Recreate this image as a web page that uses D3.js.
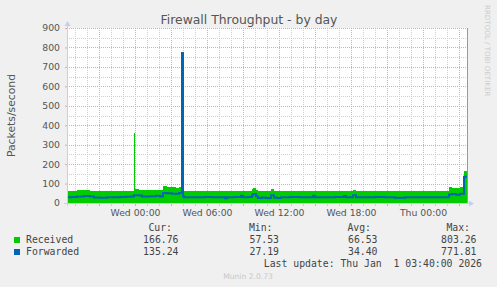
<!DOCTYPE html>
<html>
<head>
<meta charset="utf-8">
<style>
    body { margin: 0; background: #f0f0f0; }
    svg { display: block; }
    text { font-family: "DejaVu Sans", sans-serif; fill: #555; }
    .axis text { font-size: 9.3px; fill: #555; }
    .legend text { font-family: "DejaVu Sans Mono", monospace; font-size: 9.8px; fill: #444; }
    .grid line { stroke-width: 1; stroke-dasharray: 1,1; shape-rendering: crispEdges; }
    .grid .minor { stroke: #cfcfcf; }
    .grid .major { stroke: #e6a6a6; }
</style>
</head>
<body>
<script src="https://cdn.jsdelivr.net/npm/d3@7"></script>
<script>

    // samples (step values, each holds until the next time)
    var times = [
        "2025-12-30 18:20", "2025-12-30 18:45", "2025-12-30 19:10", "2025-12-30 19:45", "2025-12-30 20:15",
        "2025-12-30 20:35", "2025-12-30 21:05", "2025-12-30 21:40", "2025-12-30 22:15", "2025-12-30 22:45",
        "2025-12-30 23:15", "2025-12-30 23:40", "2025-12-30 23:55", "2025-12-31 00:00", "2025-12-31 00:20",
        "2025-12-31 00:35", "2025-12-31 01:15", "2025-12-31 01:45", "2025-12-31 02:05", "2025-12-31 02:20",
        "2025-12-31 02:40", "2025-12-31 03:05", "2025-12-31 03:25", "2025-12-31 03:40", "2025-12-31 03:55",
        "2025-12-31 04:00", "2025-12-31 04:05", "2025-12-31 04:35", "2025-12-31 05:15", "2025-12-31 05:50",
        "2025-12-31 06:25", "2025-12-31 06:55", "2025-12-31 07:30", "2025-12-31 07:40", "2025-12-31 08:15",
        "2025-12-31 08:50", "2025-12-31 09:00", "2025-12-31 09:25", "2025-12-31 09:45", "2025-12-31 09:50",
        "2025-12-31 10:05", "2025-12-31 10:15", "2025-12-31 10:35", "2025-12-31 10:55", "2025-12-31 11:20",
        "2025-12-31 11:35", "2025-12-31 11:50", "2025-12-31 12:10", "2025-12-31 12:55", "2025-12-31 13:45",
        "2025-12-31 14:50", "2025-12-31 15:00", "2025-12-31 15:50", "2025-12-31 16:40", "2025-12-31 17:25",
        "2025-12-31 17:35", "2025-12-31 18:10", "2025-12-31 18:25", "2025-12-31 19:10", "2025-12-31 20:00",
        "2025-12-31 20:50", "2025-12-31 21:40", "2025-12-31 22:30", "2025-12-31 23:20", "2026-01-01 00:10",
        "2026-01-01 01:00", "2026-01-01 01:50", "2026-01-01 02:10", "2026-01-01 02:25", "2026-01-01 02:45",
        "2026-01-01 03:05", "2026-01-01 03:25"
    ];
    var received = [
        62, 63, 66, 68, 64, 61, 60, 62, 61, 62,
        63, 64, 360, 70, 68, 66, 67, 68, 65, 88,
        84, 80, 78, 82, 760, 66, 62, 62, 63, 62,
        63, 62, 62, 63, 62, 63, 62, 63, 72, 75,
        66, 62, 63, 62, 70, 63, 62, 63, 62, 63,
        62, 63, 62, 63, 62, 63, 68, 62, 63, 62,
        63, 62, 63, 62, 63, 62, 63, 80, 78, 79,
        80, 166
    ];
    var forwarded = [
        30, 31, 34, 36, 33, 28, 27, 29, 30, 31,
        32, 34, 40, 40, 38, 34, 35, 37, 33, 52,
        50, 47, 48, 52, 771, 35, 30, 29, 30, 31,
        30, 29, 24, 30, 31, 37, 30, 31, 40, 46,
        35, 26, 28, 26, 40, 28, 26, 30, 31, 30,
        37, 30, 29, 31, 36, 30, 40, 30, 29, 31,
        30, 27, 30, 29, 30, 29, 30, 44, 46, 42,
        47, 135
    ];

    var startTime = "2025-12-30 18:20";
    var endTime = "2026-01-01 03:40";
    var yTicks = [0, 100, 200, 300, 400, 500, 600, 700, 800, 900];

    var seriesNames = ["Received", "Forwarded"];
    var seriesColors = ["#00cc00", "#0066b3"];
    var legendCur = ["166.76", "135.24"];
    var legendMin = ["57.53", "27.19"];
    var legendAvg = ["66.53", "34.40"];
    var legendMax = ["803.26", "771.81"];

    var svgW = 497, svgH = 287;
    var plotLeft = 67, plotTop = 28, plotW = 400, plotH = 175;
    var plotBottom = plotTop + plotH, plotRight = plotLeft + plotW;

    var parse = d3.timeParse("%Y-%m-%d %H:%M");

    var rows = times.map(function (t, i) {
        return { t: parse(t), r: received[i], f: forwarded[i] };
    });
    // hold the last value up to the end of the graph
    rows.push({ t: parse(endTime), r: received[received.length - 1], f: forwarded[forwarded.length - 1] });

    var x = d3.scaleTime()
        .domain([parse(startTime), parse(endTime)])
        .range([plotLeft, plotRight]);

    var y = d3.scaleLinear()
        .domain([0, 900])
        .range([plotBottom, plotTop]);

    var svg = d3.select("body").append("svg")
        .attr("width", svgW)
        .attr("height", svgH);

    svg.append("rect")
        .attr("x", plotLeft).attr("y", plotTop)
        .attr("width", plotW).attr("height", plotH)
        .attr("fill", "#fff");

    // grid
    var grid = svg.append("g").attr("class", "grid");
    var hours = d3.timeHour.range(x.domain()[0], x.domain()[1]);
    grid.selectAll("line.v")
        .data(hours)
        .enter().append("line")
        .attr("class", function (d) { return d.getHours() % 3 === 0 ? "v major" : "v minor"; })
        .attr("x1", function (d) { return Math.round(x(d)) + 0.5; })
        .attr("x2", function (d) { return Math.round(x(d)) + 0.5; })
        .attr("y1", plotTop)
        .attr("y2", plotBottom);

    grid.selectAll("line.h")
        .data(d3.range(50, 901, 50))
        .enter().append("line")
        .attr("class", function (d) { return d % 100 === 0 ? "h major" : "h minor"; })
        .attr("x1", plotLeft)
        .attr("x2", plotRight)
        .attr("y1", function (d) { return Math.round(y(d)) + 0.5; })
        .attr("y2", function (d) { return Math.round(y(d)) + 0.5; });

    // data
    var area = d3.area()
        .curve(d3.curveStepAfter)
        .x(function (d) { return x(d.t); })
        .y0(y(0))
        .y1(function (d) { return y(d.r); });

    var fwdLine = d3.line()
        .curve(d3.curveStepAfter)
        .x(function (d) { return x(d.t); })
        .y(function (d) { return y(d.f); });

    svg.append("path")
        .datum(rows)
        .attr("d", area)
        .attr("fill", seriesColors[0])
        .attr("shape-rendering", "crispEdges");

    svg.append("path")
        .datum(rows)
        .attr("d", fwdLine)
        .attr("fill", "none")
        .attr("stroke", seriesColors[1])
        .attr("stroke-width", 2);

    // frame and axes
    svg.append("line")
        .attr("x1", plotRight + 0.5).attr("x2", plotRight + 0.5)
        .attr("y1", plotTop).attr("y2", plotBottom)
        .attr("stroke", "#999");

    var xAxis = svg.append("g")
        .attr("class", "axis")
        .attr("transform", "translate(0," + plotBottom + ")")
        .call(d3.axisBottom(x)
            .ticks(d3.timeHour.every(6))
            .tickFormat(d3.timeFormat("%a %H:%M"))
            .tickSize(0)
            .tickPadding(6));
    xAxis.select(".domain").remove();

    var yAxis = svg.append("g")
        .attr("class", "axis")
        .attr("transform", "translate(" + plotLeft + ",0)")
        .call(d3.axisLeft(y)
            .tickValues(yTicks)
            .tickSize(2)
            .tickPadding(5));
    yAxis.select(".domain").remove();
    yAxis.selectAll(".tick line").attr("stroke", "#e6a6a6");

    // small hour marks under the time axis
    svg.append("g").selectAll("line")
        .data(hours)
        .enter().append("line")
        .attr("x1", function (d) { return Math.round(x(d)) + 0.5; })
        .attr("x2", function (d) { return Math.round(x(d)) + 0.5; })
        .attr("y1", plotBottom + 1)
        .attr("y2", plotBottom + 3)
        .attr("stroke", function (d) { return d.getHours() % 3 === 0 ? "#e6a6a6" : "#cfcfcf"; });

    var axisColor = "#c8ccf4";
    svg.append("line")
        .attr("x1", plotLeft + 0.5).attr("x2", plotLeft + 0.5)
        .attr("y1", plotTop - 3).attr("y2", plotBottom + 3)
        .attr("stroke", axisColor);
    svg.append("line")
        .attr("x1", plotLeft - 3).attr("x2", plotRight + 3)
        .attr("y1", plotBottom + 0.5).attr("y2", plotBottom + 0.5)
        .attr("stroke", axisColor);
    svg.append("path")
        .attr("d", "M" + (plotLeft - 2.5) + "," + (plotTop - 2) + "L" + (plotLeft + 0.5) + "," + (plotTop - 7) + "L" + (plotLeft + 3.5) + "," + (plotTop - 2) + "Z")
        .attr("fill", axisColor);
    svg.append("path")
        .attr("d", "M" + (plotRight + 2) + "," + (plotBottom - 2.5) + "L" + (plotRight + 7) + "," + (plotBottom + 0.5) + "L" + (plotRight + 2) + "," + (plotBottom + 3.5) + "Z")
        .attr("fill", axisColor);

    // titles
    svg.append("text")
        .attr("x", 249).attr("y", 23.5)
        .attr("text-anchor", "middle")
        .style("font-size", "12.4px")
        .style("fill", "#555")
        .text("Firewall Throughput - by day");

    svg.append("text")
        .attr("transform", "translate(15," + (plotTop + plotH / 2) + ") rotate(-90)")
        .attr("text-anchor", "middle")
        .style("font-size", "10.8px")
        .style("fill", "#555")
        .text("Packets/second");

    svg.append("text")
        .attr("transform", "translate(485,5) rotate(90)")
        .style("font-size", "7.1px")
        .style("fill", "#cccccc")
        .text("RRDTOOL / TOBI OETIKER");

    svg.append("text")
        .attr("x", 248).attr("y", 279)
        .attr("text-anchor", "middle")
        .style("font-size", "7.6px")
        .style("fill", "#c8c8c8")
        .text("Munin 2.0.73");

    // legend
    var legend = svg.append("g").attr("class", "legend");
    var headers = [["Cur:", 172], ["Min:", 272.5], ["Avg:", 371], ["Max:", 470]];
    headers.forEach(function (h) {
        legend.append("text")
            .attr("x", h[1]).attr("y", 230.5)
            .attr("text-anchor", "end")
            .text(h[0]);
    });

    var cols = [[legendCur, 178.5], [legendMin, 279], [legendAvg, 377.5], [legendMax, 476.5]];
    seriesNames.forEach(function (label, i) {
        var base = 243 + i * 12;
        legend.append("rect")
            .attr("x", 14).attr("y", base - 6)
            .attr("width", 6).attr("height", 6)
            .attr("fill", seriesColors[i]);
        legend.append("text")
            .attr("x", 26).attr("y", base)
            .text(label);
        cols.forEach(function (c) {
            legend.append("text")
                .attr("x", c[1]).attr("y", base)
                .attr("text-anchor", "end")
                .text(c[0][i]);
        });
    });

    legend.append("text")
        .attr("x", 482).attr("y", 267)
        .attr("text-anchor", "end")
        .style("white-space", "pre")
        .text("Last update: Thu Jan  1 03:40:00 2026");

</script>
</body>
</html>
